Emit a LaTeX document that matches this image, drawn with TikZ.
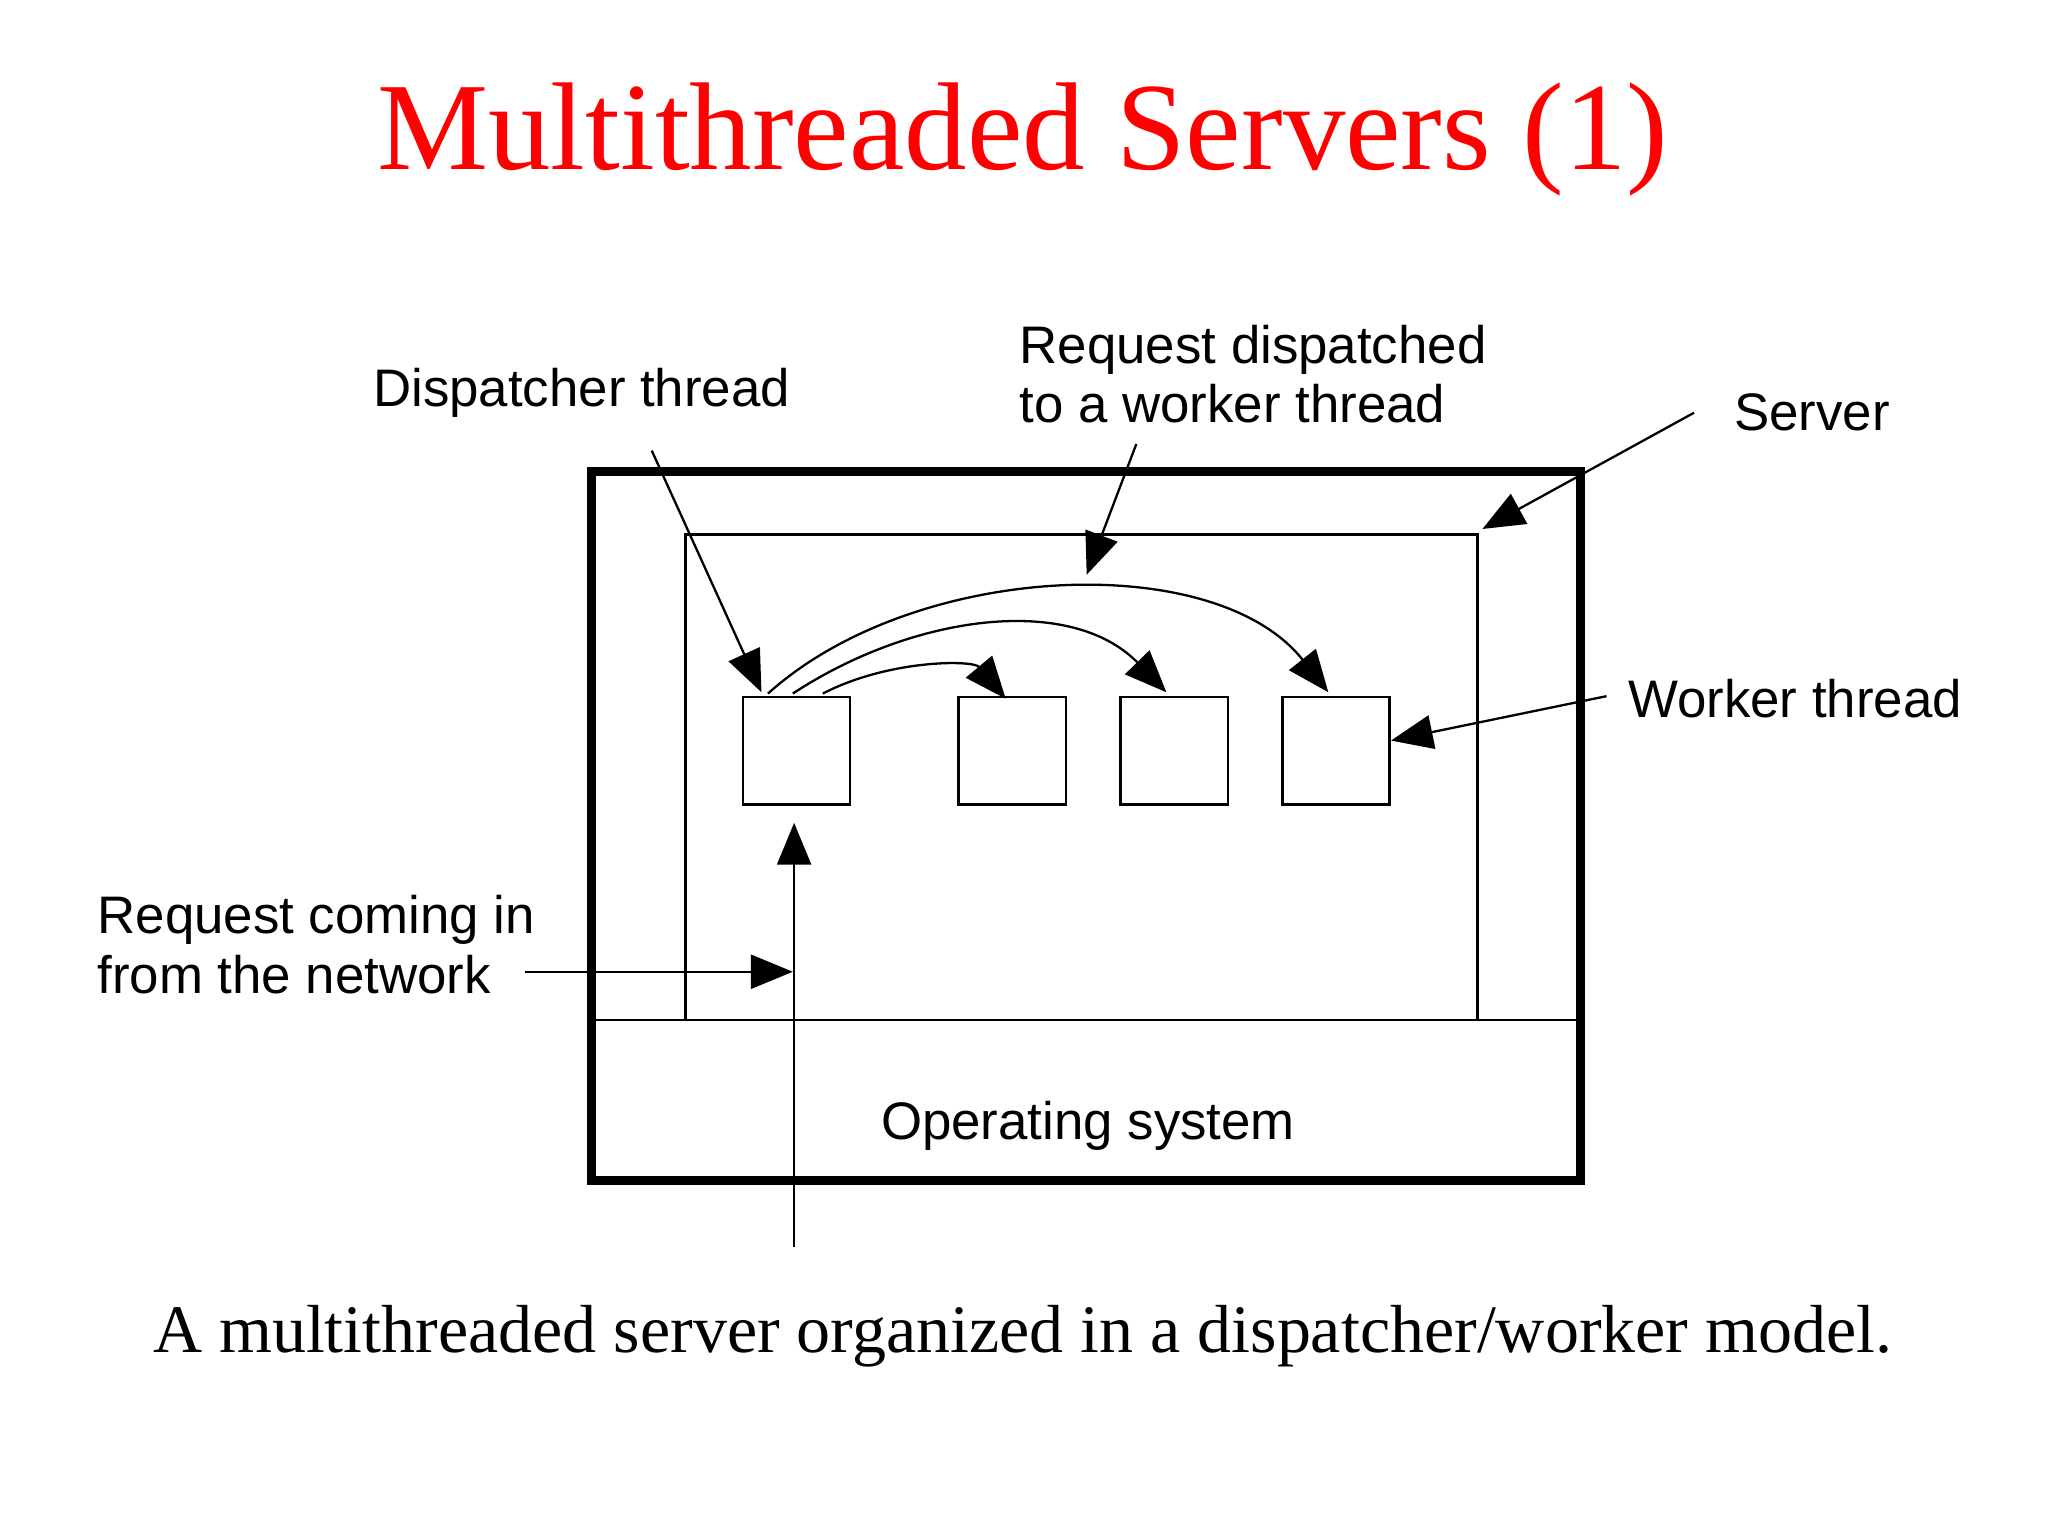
\documentclass[tikz,border=0pt]{standalone}
\usepackage{fontspec}
\setmainfont{Liberation Serif}
\newfontfamily\lab{Liberation Sans}
\usetikzlibrary{arrows.meta}
\begin{document}
\begin{tikzpicture}[x=0.01cm,y=-0.01cm,
  lbl/.style={font=\lab\fontsize{11.5}{13}\selectfont,align=left,inner sep=0},
  thr/.style={draw,line width=0.5pt,minimum size=0.82cm,inner sep=0,anchor=north west},
  ar/.style={line width=0.5pt,-{Triangle[length=0.32cm,width=0.26cm]}}]
\useasboundingbox (0,0) rectangle (1568,1176);
\node[text=red,font=\fontsize{27.2}{32}\selectfont] (title) at (783,107) {Multithreaded Servers (1)};
\node[font=\fontsize{14.8}{18}\selectfont] (cap) at (783,1023) {A multithreaded server organized in a dispatcher/worker model.};
\draw[line width=2pt] (453,361) rectangle (1210,904);
\draw[line width=0.6pt] (453,781) -- (1210,781);
\draw[line width=0.6pt] (525,781) |- (1131,409) -- (1131,781);
\coordinate (srvc) at (1135,405);
\node[thr] (d) at (568,533) {};
\node[thr] (w1) at (733,533) {};
\node[thr] (w2) at (857,533) {};
\node[thr] (w3) at (981,533) {};
\node[lbl] (os) at (833,862) {Operating system};
\node[lbl,anchor=west] (ldisp) at (285,301) {Dispatcher thread};
\node[lbl,anchor=north west] (lreq) at (780,248) {Request dispatched\\to a worker thread};
\node[lbl,anchor=west] (lsrv) at (1327,316) {Server};
\node[lbl,anchor=west] (lwrk) at (1246,535) {Worker thread};
\node[lbl,anchor=north west] (lnet) at (74,685) {Request coming in\\from the network};
\coordinate (bot) at (608,955);
\coordinate (netend) at (402,744);
\coordinate (netin) at (607,744);
\draw[ar] (bot) -- (608,630);
\draw[ar] (netend) -- (netin);
\draw[ar] (499,345) -- (583,530);
\draw[ar] (870,340) -- (832,440);
\draw[ar] (1297,316) -- (srvc);
\draw[ar] (1230,533) -- (1065,567);
\draw[ar] (588,531) .. controls (700,430) and (930,420) .. (1017,530);
\draw[ar] (607,531) .. controls (700,470) and (820,455) .. (893,530);
\draw[ar] (630,531) .. controls (680,505) and (745,505) .. (770,535);
\end{tikzpicture}
\end{document}
